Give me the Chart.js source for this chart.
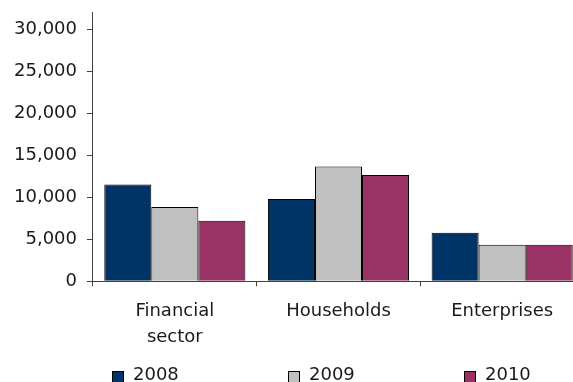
<!DOCTYPE html>
<html>
<head>
<meta charset="utf-8">
<script src="https://cdn.jsdelivr.net/npm/chart.js@4/dist/chart.umd.min.js"></script>
<style>
  html, body { margin: 0; padding: 0; background: #fff; }
  #wrap { position: relative; width: 573px; height: 382px; overflow: hidden; }
  #legend { position: absolute; left: 112px; top: 364px; display: flex;
            font-family: 'DejaVu Sans'; font-size: 18px; line-height: 20px; color: #1a1a1a; }
  .item { width: 176px; position: relative; white-space: nowrap; }
  .box { position: absolute; left: 0; top: 7px; width: 10px; height: 10px; border: 1px solid #000; }
  .lbl { margin-left: 21px; }
</style>
</head>
<body>
<div id="wrap">
  <canvas id="myChart" width="584" height="382"></canvas>
  <div id="legend"></div>
</div>
<script>
// data
const categories = [['Financial', 'sector'], 'Households', 'Enterprises'];
const years = ['2008', '2009', '2010'];
const values2008 = [11500, 9800, 5770];
const values2009 = [8850, 13650, 4350];
const values2010 = [7200, 12650, 4350];
const yTicks = [0, 5000, 10000, 15000, 20000, 25000, 30000];
const colors = ['#003366', '#c0c0c0', '#993366'];

Chart.defaults.font.family = 'DejaVu Sans';
Chart.defaults.font.size = 18;
Chart.defaults.color = '#1a1a1a';

const series = [values2008, values2009, values2010];
const datasets = years.map((y, i) => ({
  label: y,
  data: series[i],
  backgroundColor: colors[i],
  borderColor: '#000',
  borderWidth: 1,
  categoryPercentage: 0.862,
  barPercentage: 1.0
}));

const ctx = document.getElementById('myChart').getContext('2d');
const myChart = new Chart(ctx, {
  type: 'bar',
  data: { labels: categories, datasets: datasets },
  options: {
    responsive: false,
    animation: false,
    layout: { padding: { left: 4, top: 3, right: 0, bottom: 19.5 } },
    plugins: { legend: { display: false }, tooltip: { enabled: false } },
    scales: {
      x: {
        grid: { offset: true, drawOnChartArea: false, tickLength: 5, color: '#404040' },
        border: { color: '#404040' },
        ticks: { padding: 12, maxRotation: 0, font: { lineHeight: 1.45 } }
      },
      y: {
        min: 0,
        max: 32000,
        grid: { drawOnChartArea: false, tickLength: 6, color: '#404040' },
        border: { color: '#404040' },
        afterBuildTicks: function(axis) {
          axis.ticks = yTicks.map(v => ({ value: v }));
        },
        ticks: {
          padding: 10,
          autoSkip: false,
          font: { lineHeight: 0.25 },
          callback: v => v.toLocaleString('en-US')
        }
      }
    }
  }
});

// legend drawn as html
const legend = document.getElementById('legend');
datasets.forEach(ds => {
  const item = document.createElement('div');
  item.className = 'item';
  item.innerHTML = '<span class="box" style="background:' + ds.backgroundColor + '"></span><span class="lbl">' + ds.label + '</span>';
  legend.appendChild(item);
});
</script>
</body>
</html>
